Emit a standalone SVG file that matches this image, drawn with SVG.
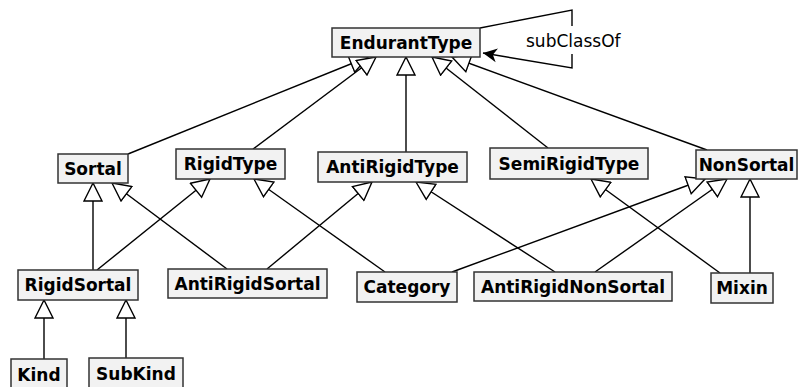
<svg xmlns="http://www.w3.org/2000/svg" width="798" height="387" viewBox="0 0 798 387">
  <style>
    .box { fill: #f2f2f2; stroke: #333; stroke-width: 1.5; }
    .lbl { font-family: "DejaVu Sans", sans-serif; font-weight: bold; font-size: 17px; fill: #000; text-anchor: middle; }
    .edge { fill: none; stroke: #000; stroke-width: 1.4; marker-end: url(#gen); }
    .loop { fill: none; stroke: #000; stroke-width: 1.4; marker-end: url(#open); }
    .note { font-family: "DejaVu Sans", sans-serif; font-size: 17px; fill: #000; }
  </style>
  <defs>
    <!-- hollow generalization triangle -->
    <marker id="gen" viewBox="0 0 20 20" refX="19" refY="10" markerWidth="20" markerHeight="20" markerUnits="userSpaceOnUse" orient="auto">
      <path d="M19,10 L1,1 L1,19 Z" fill="#fff" stroke="#000" stroke-width="1.4"/>
    </marker>
    <!-- barbed association arrow -->
    <marker id="open" viewBox="0 0 16 16" refX="15" refY="8" markerWidth="16" markerHeight="16" markerUnits="userSpaceOnUse" orient="auto">
      <path d="M15,8 L1,1 L5,8 L1,15 Z" fill="#000"/>
    </marker>
  </defs>
  <rect width="798" height="387" fill="#fff"/>

  <g id="connectors">
    <line class="edge" x1="128" y1="154" x2="368" y2="57"/>
    <line class="edge" x1="253" y1="149" x2="376" y2="57"/>
    <line class="edge" x1="406" y1="152" x2="406" y2="57"/>
    <line class="edge" x1="548" y1="148" x2="432" y2="57"/>
    <line class="edge" x1="707" y1="150" x2="452" y2="57"/>
    <line class="edge" x1="93" y1="270" x2="93" y2="183"/>
    <line class="edge" x1="227" y1="269" x2="112" y2="183"/>
    <line class="edge" x1="97" y1="270" x2="210" y2="179"/>
    <line class="edge" x1="385" y1="272" x2="254" y2="179"/>
    <line class="edge" x1="267" y1="269" x2="372" y2="182"/>
    <line class="edge" x1="555" y1="272" x2="416" y2="182"/>
    <line class="edge" x1="452" y1="272" x2="705" y2="179"/>
    <line class="edge" x1="595" y1="272" x2="727" y2="179"/>
    <line class="edge" x1="720" y1="273" x2="591" y2="179"/>
    <line class="edge" x1="750" y1="273" x2="750" y2="179"/>
    <line class="edge" x1="44" y1="359" x2="44" y2="300"/>
    <line class="edge" x1="126" y1="358" x2="126" y2="300"/>
    <polyline class="loop" points="480,28 572,10 572,68 483,53"/>
    <!-- label sits on a white patch that breaks the loop line -->
    <rect x="523" y="26" width="100" height="28" fill="#fff"/>
    <text class="note" x="526" y="47">subClassOf</text>
  </g>

  <g id="EndurantType"><rect class="box" x="332" y="28" width="148" height="29"/><text class="lbl" x="406" y="49">EndurantType</text></g>
  <g id="Sortal"><rect class="box" x="58" y="154" width="70" height="29"/><text class="lbl" x="93" y="175">Sortal</text></g>
  <g id="RigidType"><rect class="box" x="176" y="149" width="109" height="30"/><text class="lbl" x="230.5" y="170">RigidType</text></g>
  <g id="AntiRigidType"><rect class="box" x="318" y="152" width="149" height="30"/><text class="lbl" x="392.5" y="173">AntiRigidType</text></g>
  <g id="SemiRigidType"><rect class="box" x="490" y="148" width="158" height="31"/><text class="lbl" x="569" y="169.5">SemiRigidType</text></g>
  <g id="NonSortal"><rect class="box" x="696" y="150" width="101" height="29"/><text class="lbl" x="746.5" y="171">NonSortal</text></g>
  <g id="RigidSortal"><rect class="box" x="18" y="270" width="120" height="30"/><text class="lbl" x="78" y="291">RigidSortal</text></g>
  <g id="AntiRigidSortal"><rect class="box" x="168" y="269" width="159" height="29"/><text class="lbl" x="247.5" y="289.5">AntiRigidSortal</text></g>
  <g id="Category"><rect class="box" x="357" y="272" width="100" height="30"/><text class="lbl" x="407" y="293">Category</text></g>
  <g id="AntiRigidNonSortal"><rect class="box" x="474" y="272" width="198" height="29"/><text class="lbl" x="573" y="292.5">AntiRigidNonSortal</text></g>
  <g id="Mixin"><rect class="box" x="711" y="273" width="62" height="30"/><text class="lbl" x="742" y="294">Mixin</text></g>
  <g id="Kind"><rect class="box" x="11" y="359" width="56" height="32"/><text class="lbl" x="39" y="381">Kind</text></g>
  <g id="SubKind"><rect class="box" x="89" y="358" width="94" height="32"/><text class="lbl" x="136" y="380">SubKind</text></g>
</svg>
